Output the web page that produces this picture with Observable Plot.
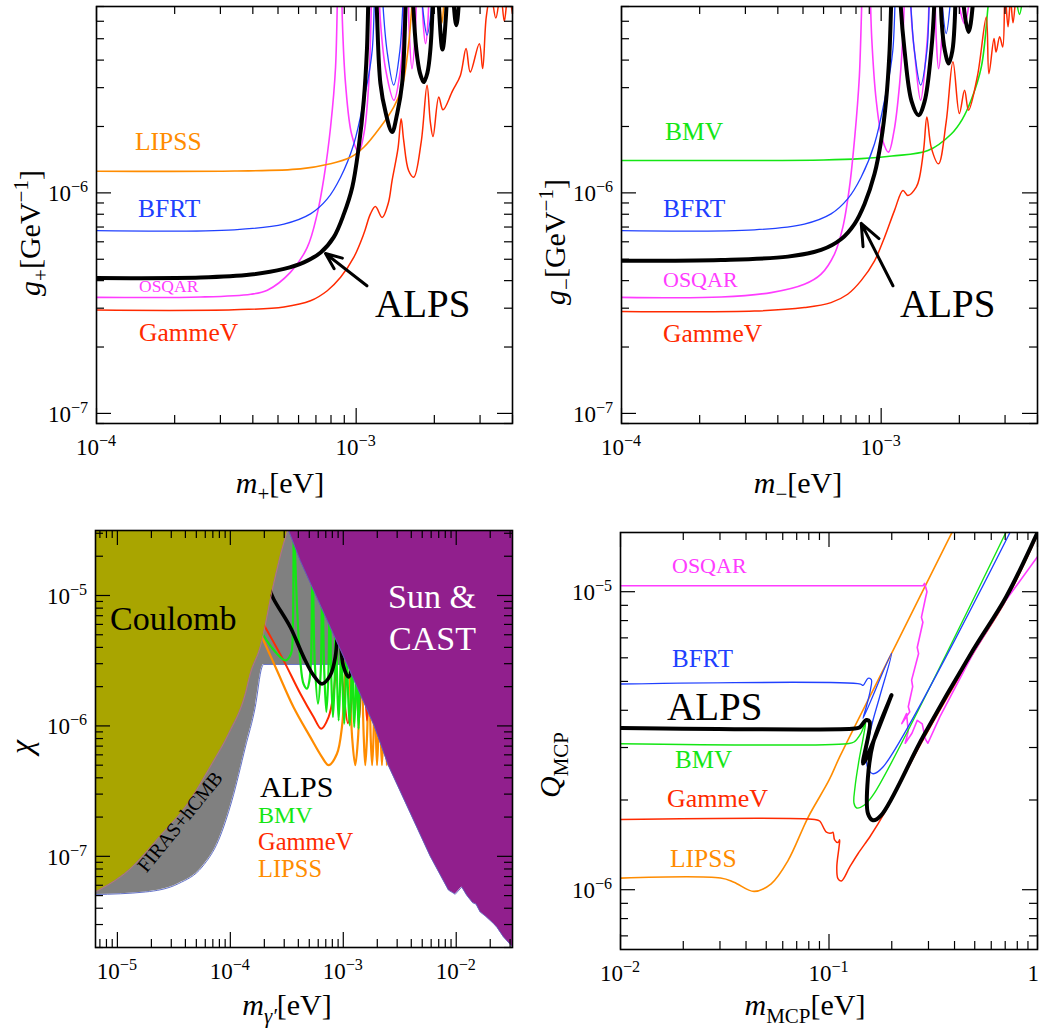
<!DOCTYPE html>
<html><head><meta charset="utf-8">
<script src="https://cdn.jsdelivr.net/npm/d3@7"></script>
<script src="https://cdn.jsdelivr.net/npm/@observablehq/plot@0.6"></script>
<style>
body{margin:0;background:#fff;}
#wrap{position:relative;width:1040px;height:1033px;overflow:hidden;background:#fff;}
</style></head><body><div id="wrap"></div>
<script>
const FONT = "'Liberation Serif','Times New Roman',serif";
const C = {orange:"#ff8c00", blue:"#2040ff", magenta:"#ff3cff", red:"#ff2a00", green:"#14e614", black:"#000",
           olive:"#a9a500", purple:"#911f8d", gray:"#808080"};

// ================= Panel A : m+ vs g+ =================
const aXDomain = [1e-4, 4e-3], aYDomain = [9e-8, 7e-6];
const aXTicks = [1e-4, 1e-3], aXTickLabels = ["10^-4", "10^-3"];
const aYTicks = [1e-7, 1e-6], aYTickLabels = ["10^-7", "10^-6"];
const aLIPSS = [[1e-4,1.254e-6],[3.4e-4,1.256e-6],[6.1e-4,1.285e-6],[7.96e-4,1.355e-6],[9.51e-4,1.45e-6],[1.07e-3,1.61e-6],[1.24e-3,1.99e-6],[1.395e-3,2.45e-6],[1.503e-3,3.02e-6],[1.593e-3,4.75e-6],[1.65e-3,8e-6],[1.75e-3,3e-5],[2.0e-3,3e-5],[2.1e-3,7.5e-6],[2.14e-3,5.9e-6],[2.18e-3,7.5e-6],[2.3e-3,3e-5]];
const aBFRT = [[1e-4,6.74e-7],[3.39e-4,6.8e-7],[5.27e-4,7.22e-7],[6.67e-4,8.03e-7],[7.74e-4,9.39e-7],[8.71e-4,1.178e-6],[9.8e-4,1.671e-6],[1.07e-3,2.63e-6],[1.153e-3,4.44e-6],[1.2e-3,3e-5],[1.26e-3,8e-6],[1.315e-3,4.4e-6],[1.395e-3,3.08e-6],[1.473e-3,4.4e-6],[1.52e-3,8e-6],[1.6e-3,3e-5],[1.8e-3,7e-6],[1.875e-3,5.19e-6],[1.95e-3,7e-6],[2.05e-3,3e-5]];
const aOSQAR = [[1e-4,3.36e-7],[2.52e-4,3.37e-7],[3.93e-4,3.47e-7],[4.55e-4,3.62e-7],[5.58e-4,4.36e-7],[6.48e-4,5.66e-7],[7.08e-4,8.03e-7],[7.52e-4,1.178e-6],[7.97e-4,1.99e-6],[8.33e-4,3.72e-6],[8.65e-4,3e-5],[8.85e-4,6e-6],[9.1e-4,3.13e-6],[9.6e-4,1.85e-6],[1.023e-3,1.53e-6],[1.075e-3,1.9e-6],[1.118e-3,3.13e-6],[1.14e-3,6e-6],[1.17e-3,3e-5],[1.24e-3,6e-6],[1.3e-3,3.6e-6],[1.397e-3,2.63e-6],[1.48e-3,3.6e-6],[1.52e-3,6e-6],[1.56e-3,3e-5],[1.6e-3,5.5e-6],[1.64e-3,3.66e-6],[1.69e-3,5.5e-6],[1.75e-3,3e-5],[1.81e-3,6e-6],[1.85e-3,4.75e-6],[1.89e-3,6e-6],[1.93e-3,3e-5]];
const aGammeV = [[1e-4,2.94e-7],[3.39e-4,2.95e-7],[5.27e-4,3.04e-7],[6.67e-4,3.24e-7],[7.74e-4,3.6e-7],[8.71e-4,4.14e-7],[9.8e-4,5.11e-7],[1.07e-3,6.52e-7],[1.135e-3,8.03e-7],[1.186e-3,8.67e-7],[1.259e-3,7.74e-7],[1.33e-3,9.0e-7],[1.375e-3,1.137e-6],[1.45e-3,1.6e-6],[1.49e-3,2.17e-6],[1.524e-3,1.73e-6],[1.593e-3,1.26e-6],[1.667e-3,1.178e-6],[1.78e-3,1.7e-6],[1.875e-3,3.08e-6],[1.93e-3,2.1e-6],[1.977e-3,1.8e-6],[2.08e-3,2.72e-6],[2.16e-3,2.38e-6],[2.35e-3,2.9e-6],[2.52e-3,3.41e-6],[2.65e-3,4.52e-6],[2.75e-3,3.53e-6],[2.98e-3,4.75e-6],[3.07e-3,3.66e-6],[3.17e-3,6.28e-6],[3.3e-3,8e-6],[3.45e-3,6.2e-6],[3.6e-3,8e-6],[3.72e-3,6e-6],[3.85e-3,8e-6],[4.0e-3,6.5e-6]];
const aALPS = [[1e-4,4.11e-7],[2.52e-4,4.13e-7],[3.93e-4,4.26e-7],[5.27e-4,4.52e-7],[6.29e-4,4.84e-7],[7.3e-4,5.37e-7],[8.2e-4,6.3e-7],[8.97e-4,8.03e-7],[9.66e-4,1.061e-6],[1.023e-3,1.615e-6],[1.07e-3,2.63e-6],[1.1e-3,4.44e-6],[1.15e-3,3e-5],[1.2e-3,7e-6],[1.24e-3,3.13e-6],[1.3e-3,2.3e-6],[1.375e-3,1.886e-6],[1.44e-3,2.3e-6],[1.503e-3,3.13e-6],[1.55e-3,7e-6],[1.6e-3,3e-5],[1.66e-3,7e-6],[1.706e-3,4.43e-6],[1.76e-3,3.5e-6],[1.82e-3,3.18e-6],[1.88e-3,3.5e-6],[1.93e-3,4.43e-6],[1.97e-3,7e-6],[2.02e-3,3e-5],[2.09e-3,6.5e-6],[2.15e-3,4.47e-6],[2.22e-3,6.5e-6],[2.29e-3,3e-5],[2.38e-3,7e-6],[2.43e-3,5.76e-6],[2.48e-3,7e-6],[2.52e-3,3e-5]];
const aArrow = [{x1:1.10e-3, y1:3.79e-7, x2:7.62e-4, y2:5.31e-7}];

// ================= Panel B : m- vs g- =================
const bXDomain = [1e-4, 4e-3], bYDomain = [9e-8, 7e-6];
const bXTicks = [1e-4, 1e-3], bXTickLabels = ["10^-4", "10^-3"];
const bYTicks = [1e-7, 1e-6], bYTickLabels = ["10^-7", "10^-6"];
const bBMV = [[1e-4,1.403e-6],[6e-4,1.41e-6],[8.38e-4,1.43e-6],[1.1e-3,1.47e-6],[1.514e-3,1.556e-6],[1.862e-3,1.85e-6],[2.05e-3,2.15e-6],[2.22e-3,2.63e-6],[2.43e-3,3.72e-6],[2.58e-3,7e-6],[2.75e-3,1.6e-5],[3.0e-3,3e-5],[3.22e-3,1.2e-5],[3.32e-3,7.5e-6],[3.41e-3,6.45e-6],[3.5e-3,7.5e-6],[3.6e-3,1.2e-5],[3.8e-3,3e-5]];
const bBFRT = [[1e-4,6.74e-7],[3.25e-4,6.8e-7],[5.06e-4,7.22e-7],[6.41e-4,8.03e-7],[7.43e-4,9.39e-7],[8.37e-4,1.178e-6],[9.43e-4,1.671e-6],[1.03e-3,2.63e-6],[1.109e-3,4.44e-6],[1.17e-3,3e-5],[1.3e-3,7e-6],[1.343e-3,4.4e-6],[1.419e-3,3.08e-6],[1.5e-3,4.4e-6],[1.53e-3,7e-6],[1.6e-3,3e-5],[1.72e-3,7e-6],[1.78e-3,5.28e-6],[1.84e-3,7e-6],[1.95e-3,3e-5]];
const bOSQAR = [[1e-4,3.36e-7],[2.42e-4,3.37e-7],[3.77e-4,3.53e-7],[5.06e-4,3.85e-7],[5.87e-4,4.28e-7],[6.61e-4,5.28e-7],[7.12e-4,6.99e-7],[7.55e-4,1.061e-6],[7.89e-4,1.73e-6],[8.24e-4,3.36e-6],[8.75e-4,3e-5],[9.2e-4,5e-6],[9.57e-4,2.63e-6],[1.01e-3,1.75e-6],[1.067e-3,1.53e-6],[1.12e-3,1.9e-6],[1.178e-3,3.13e-6],[1.22e-3,6e-6],[1.27e-3,3e-5],[1.31e-3,6e-6],[1.343e-3,4.4e-6],[1.419e-3,2.63e-6],[1.493e-3,4.4e-6],[1.52e-3,6e-6],[1.57e-3,3e-5],[1.63e-3,5e-6],[1.663e-3,3.66e-6],[1.71e-3,5e-6],[1.753e-3,3e-5],[2.0e-3,7e-6],[2.095e-3,5.86e-6],[2.17e-3,7e-6],[2.25e-3,3e-5]];
const bGammeV = [[1e-4,2.9e-7],[3.25e-4,2.91e-7],[5.06e-4,3.02e-7],[6.41e-4,3.18e-7],[7.43e-4,3.47e-7],[8.37e-4,4.0e-7],[9.43e-4,4.92e-7],[1.03e-3,6.28e-7],[1.125e-3,8.31e-7],[1.213e-3,1.026e-6],[1.268e-3,9.73e-7],[1.365e-3,1.061e-6],[1.406e-3,1.18e-6],[1.46e-3,1.6e-6],[1.5e-3,2.21e-6],[1.56e-3,1.6e-6],[1.663e-3,1.355e-6],[1.78e-3,2.1e-6],[1.89e-3,3.93e-6],[2.0e-3,2.29e-6],[2.095e-3,2.92e-6],[2.17e-3,2.37e-6],[2.35e-3,3.4e-6],[2.54e-3,6.28e-6],[2.6e-3,3.47e-6],[2.72e-3,5.01e-6],[2.77e-3,4.35e-6],[2.86e-3,5.1e-6],[2.94e-3,4.59e-6],[3.0e-3,8e-6],[3.08e-3,5.66e-6],[3.15e-3,7.5e-6],[3.22e-3,5.9e-6],[3.35e-3,9e-6],[3.45e-3,7e-6],[3.55e-3,9e-6]];
const bALPS = [[1e-4,4.92e-7],[2.42e-4,4.96e-7],[4.37e-4,5.14e-7],[5.87e-4,5.51e-7],[7.02e-4,6.18e-7],[7.89e-4,7.22e-7],[8.63e-4,8.91e-7],[9.43e-4,1.22e-6],[1.0e-3,1.73e-6],[1.045e-3,2.63e-6],[1.076e-3,4.28e-6],[1.14e-3,3e-5],[1.19e-3,7e-6],[1.23e-3,4.44e-6],[1.31e-3,2.6e-6],[1.393e-3,2.25e-6],[1.47e-3,2.6e-6],[1.56e-3,4.44e-6],[1.6e-3,7e-6],[1.65e-3,3e-5],[1.71e-3,6e-6],[1.76e-3,4.4e-6],[1.82e-3,3.86e-6],[1.88e-3,4.4e-6],[1.92e-3,6e-6],[1.985e-3,3e-5],[2.08e-3,7e-6],[2.17e-3,5.37e-6],[2.25e-3,7e-6],[2.32e-3,3e-5],[2.42e-3,7.8e-6],[2.5e-3,3e-5]];
const bArrow = [{x1:1.11e-3, y1:3.79e-7, x2:8.38e-4, y2:7.27e-7}];

// ================= Panel C : hidden photon =================
const cXDomain = [6.4e-6, 3.15e-2], cYDomain = [2e-8, 3.15e-5];
const cXTicks = [1e-5, 1e-4, 1e-3, 1e-2], cXTickLabels = ["10^-5", "10^-4", "10^-3", "10^-2"];
const cYTicks = [1e-7, 1e-6, 1e-5], cYTickLabels = ["10^-7", "10^-6", "10^-5"];
const cCoulomb = [[6.38e-6,5.33e-8],[1.26e-5,7.82e-8],[2.49e-5,1.49e-7],[4.0e-5,2.39e-7],[6.88e-5,5.13e-7],[9.66e-5,8.71e-7],[1.36e-4,1.77e-6],[1.5e-4,2.5e-6],[1.84e-4,4.02e-6],[2.42e-4,1.23e-5],[2.96e-4,2.49e-5],[3.22e-4,3.15e-5]];
const cFiras = [[6.38e-6,5.09e-8],[1.77e-5,5.33e-8],[3.48e-5,6.18e-8],[5.62e-5,8.28e-8],[7.87e-5,1.33e-7],[1.035e-4,2.69e-7],[1.36e-4,6.89e-7],[1.66e-4,1.39e-6],[1.905e-4,2.82e-6],[1.97e-4,2.96e-6],[1.2e-3,2.96e-6]];
const cSun = [[3.28e-4,3.15e-5],[4.16e-4,1.85e-5],[1.076e-3,2.99e-6],[1.88e-3,1.0e-6],[2.5e-3,5.0e-7],[5.89e-3,1.0e-7],[8.55e-3,5.5e-8],[9.8e-3,5.12e-8],[1.12e-2,5.82e-8],[1.24e-2,5.02e-8],[1.4e-2,4.4e-8],[1.5e-2,4.3e-8],[1.63e-2,3.74e-8],[1.8e-2,3.5e-8],[2.14e-2,3.05e-8],[2.3e-2,2.85e-8],[2.62e-2,2.41e-8],[3.15e-2,2.02e-8]];
const cLIPSS = [[1.75e-4,5.6e-6],[1.905e-4,4.8e-6],[2.59e-4,2.66e-6],[3.63e-4,1.39e-6],[5.11e-4,8.2e-7],[6.48e-4,5.77e-7],[7.41e-4,5.0e-7],[8.79e-4,6.12e-7],[9.73e-4,9.8e-7],[1.02e-3,1.77e-6],[1.06e-3,4e-6],[1.09e-3,3e-5],[1.15e-3,2e-6],[1.2e-3,8e-7],[1.277e-3,5.0e-7],[1.35e-3,8e-7],[1.4e-3,2e-6],[1.43e-3,3e-5],[1.48e-3,2e-6],[1.52e-3,8e-7],[1.566e-3,5e-7],[1.62e-3,8e-7],[1.66e-3,2e-6],[1.68e-3,3e-5],[1.72e-3,2e-6],[1.75e-3,8e-7],[1.8e-3,5e-7],[1.85e-3,8e-7],[1.88e-3,2e-6],[1.9e-3,3e-5],[1.93e-3,2e-6],[1.95e-3,8e-7],[1.99e-3,5e-7],[2.04e-3,8e-7],[2.07e-3,2e-6],[2.09e-3,3e-5],[2.12e-3,2e-6],[2.15e-3,8e-7],[2.2e-3,5e-7],[2.25e-3,8e-7],[2.28e-3,2e-6],[2.3e-3,3e-5],[2.34e-3,2e-6],[2.38e-3,8e-7],[2.43e-3,5e-7],[2.48e-3,8e-7],[2.52e-3,2e-6]];
const cGammeV = [[1.8e-4,7e-6],[2.04e-4,5.71e-6],[2.96e-4,3.18e-6],[4.16e-4,1.77e-6],[5.46e-4,1.17e-6],[6.38e-4,9.53e-7],[7.41e-4,1.17e-6],[8.2e-4,1.77e-6],[8.67e-4,3.18e-6],[8.9e-4,6e-6],[9.1e-4,3e-5],[9.6e-4,3e-6],[1.02e-3,1.6e-6],[1.1e-3,1.05e-6],[1.18e-3,1.5e-6],[1.24e-3,3e-6],[1.27e-3,3e-5],[1.3e-3,3e-6],[1.37e-3,1.05e-6],[1.44e-3,2.2e-6],[1.5e-3,3e-5],[1.55e-3,2.5e-6],[1.62e-3,1.1e-6],[1.7e-3,2.2e-6],[1.76e-3,3e-5]];
const cBMV = [[1.8e-4,5.8e-6],[1.97e-4,4.93e-6],[2.59e-4,3.57e-6],[3.07e-4,3.18e-6],[3.44e-4,3.57e-6],[3.58e-4,6e-6],[3.66e-4,3e-5],
  [3.9e-4,8e-6],[4.16e-4,3.18e-6],[4.45e-4,2.1e-6],[4.78e-4,1.93e-6],[5.0e-4,2.2e-6],[5.18e-4,3.18e-6],[5.28e-4,1e-5],[5.35e-4,3e-5],
  [5.45e-4,8e-6],[5.6e-4,3e-6],[5.97e-4,1.48e-6],[6.3e-4,2.5e-6],[6.45e-4,8e-6],[6.55e-4,3e-5],
  [6.65e-4,6e-6],[6.8e-4,2.5e-6],[7.08e-4,1.28e-6],[7.35e-4,2.2e-6],[7.5e-4,6e-6],[7.6e-4,3e-5],
  [7.7e-4,6e-6],[7.85e-4,2.2e-6],[8.1e-4,1.17e-6],[8.35e-4,2e-6],[8.5e-4,6e-6],[8.6e-4,3e-5],
  [8.7e-4,5e-6],[8.85e-4,2e-6],[9.1e-4,1.1e-6],[9.35e-4,1.9e-6],[9.5e-4,5e-6],[9.6e-4,3e-5],
  [9.7e-4,5e-6],[9.9e-4,1.8e-6],[1.02e-3,1.04e-6],[1.045e-3,1.8e-6],[1.06e-3,5e-6],[1.07e-3,3e-5],
  [1.08e-3,4e-6],[1.105e-3,1.7e-6],[1.14e-3,1.01e-6],[1.17e-3,1.7e-6],[1.19e-3,4e-6],[1.2e-3,3e-5],
  [1.21e-3,4e-6],[1.225e-3,1.6e-6],[1.25e-3,9.8e-7],[1.28e-3,1.6e-6],[1.3e-3,4e-6],[1.31e-3,3e-5],
  [1.32e-3,4e-6],[1.34e-3,1.6e-6],[1.365e-3,9.5e-7],[1.39e-3,1.5e-6],[1.42e-3,4e-6]];
const cALPS = [[2.2e-4,1.15e-5],[2.41e-4,9.44e-6],[3.4e-4,5.71e-6],[4.46e-4,3.37e-6],[5.46e-4,2.44e-6],[6.48e-4,2.1e-6],[7.67e-4,2.44e-6],[8.5e-4,3.37e-6],[8.9e-4,5.5e-6],[9.2e-4,1e-5],[9.5e-4,4.5e-6],[1.0e-3,2.9e-6],[1.114e-3,2.37e-6],[1.2e-3,3.2e-6],[1.25e-3,1e-5]];

// ================= Panel D : minicharged particles =================
const dXDomain = [1e-2, 1], dYDomain = [6.3e-7, 1.58e-5];
const dXTicks = [1e-2, 1e-1, 1], dXTickLabels = ["10^-2", "10^-1", "1"];
const dYTicks = [1e-6, 1e-5], dYTickLabels = ["10^-6", "10^-5"];
const dOSQAR = [[0.01,1.047e-5],[0.2825,1.047e-5],[0.2874,1.067e-5],[0.295,1.0e-5],[0.291,9.6e-6],[0.2775,8.2e-6],[0.282,7.9e-6],[0.265,6.5e-6],[0.269,6.2e-6],[0.249,5.05e-6],[0.252,4.8e-6],[0.24,4.11e-6],[0.244,3.95e-6],[0.2234,3.61e-6],[0.2355,3.9e-6],[0.24,3.4e-6],[0.232,3.1e-6],[0.25,3.35e-6],[0.265,3.7e-6],[0.28,3.6e-6],[0.29,3.2e-6],[0.298,3.1e-6],[0.34,3.8e-6],[0.491,6.21e-6],[0.7,9.3e-6],[1.0,1.31e-5]];
const dBFRT = [[0.01,4.9e-6],[0.1416,4.9e-6],[0.1457,4.85e-6],[0.1538,5.12e-6],[0.1596,5.07e-6],[0.158,4.68e-6],[0.151,4.11e-6],[0.1457,3.76e-6],[0.1995,6.21e-6],[0.175,4.44e-6],[0.1596,3.52e-6],[0.151,2.86e-6],[0.1538,2.55e-6],[0.1626,2.45e-6],[0.1815,2.58e-6],[0.748,1.61e-5]];
const dBMV = [[0.01,3.09e-6],[0.1225,3.09e-6],[0.1318,3.13e-6],[0.142,3.34e-6],[0.15,3.66e-6],[0.1462,3.26e-6],[0.1393,2.72e-6],[0.1333,2.21e-6],[0.1318,1.95e-6],[0.1358,1.88e-6],[0.1473,1.92e-6],[0.1644,2.1e-6],[0.705,1.58e-5]];
const dGammeV = [[0.01,1.72e-6],[0.0854,1.72e-6],[0.0902,1.7e-6],[0.0972,1.56e-6],[0.1028,1.55e-6],[0.1045,1.56e-6],[0.1064,1.47e-6],[0.1104,1.44e-6],[0.1125,1.47e-6],[0.1117,1.39e-6],[0.109,1.19e-6],[0.1104,1.09e-6],[0.1147,1.07e-6],[0.1256,1.19e-6],[0.1377,1.32e-6],[0.1585,1.52e-6],[0.1837,1.8e-6],[0.2825,3.18e-6],[0.491,6.2e-6],[0.708,9.4e-6],[1.0,1.55e-5]];
const dLIPSS = [[0.01,1.094e-6],[0.0302,1.094e-6],[0.035,1.06e-6],[0.0437,9.87e-7],[0.0528,1.047e-6],[0.0635,1.25e-6],[0.0794,1.75e-6],[0.1,2.33e-6],[0.1125,2.79e-6],[0.211,6.71e-6],[0.394,1.61e-5]];
const dALPS = [[0.01,3.49e-6],[0.129,3.47e-6],[0.14,3.5e-6],[0.151,3.71e-6],[0.1567,3.66e-6],[0.1457,2.65e-6],[0.1995,4.5e-6],[0.1626,3.1e-6],[0.1538,2.39e-6],[0.1538,1.8e-6],[0.1626,1.71e-6],[0.1782,1.78e-6],[0.2825,3.26e-6],[0.491,6.37e-6],[0.708,9.62e-6],[1.0,1.58e-5]];

// ================= helpers =================
function minors(dom) {
  const out = [];
  for (let k = Math.floor(Math.log10(dom[0])) ; k <= Math.ceil(Math.log10(dom[1])); k++)
    for (let m = 2; m <= 9; m++) { const v = m * Math.pow(10, k); if (v >= dom[0]*0.999 && v <= dom[1]*1.001) out.push(v); }
  return out;
}
const line = (data, stroke, sw, curve = "catmull-rom") =>
  Plot.line(data, {x: d => d[0], y: d => d[1], stroke, strokeWidth: sw, curve, clip: true});

function addText(svg, {x, y, size, fill = "#000", anchor = "start", rotate = 0, parts, dy = 0}) {
  const t = d3.select(svg).append("text")
    .attr("transform", `translate(${x},${y}) rotate(${rotate})`)
    .attr("text-anchor", anchor).attr("fill", fill)
    .attr("font-family", FONT).attr("font-size", size).attr("dy", dy);
  let off = 0;
  for (const [s, k = ""] of parts) {
    const isSub = k.includes("sub"), isSup = k.includes("sup");
    const target = isSub ? size * 0.28 : isSup ? -size * 0.4 : 0;
    const ts = t.append("tspan").text(s).attr("dy", target - off);
    off = target;
    if (isSub || isSup) ts.attr("font-size", size * 0.7);
    if (k.startsWith("i")) ts.attr("font-style", "italic");
  }
  return t;
}
function tickParts(lbl) {
  const m = lbl.match(/^10\^(-?)(\d+)$/);
  if (!m) return [[lbl]];
  return [["10"], [(m[1] ? "\u2212" : "") + m[2], "sup"]];
}

function makePanel(cfg) {
  const {left, top, width, height, m, xDomain, yDomain, xTicks, xLabels, yTicks, yLabels, marks} = cfg;
  const iw = width - m.l - m.r, ih = height - m.t - m.b;
  const xMinor = minors(xDomain), yMinor = minors(yDomain);
  const tk = {stroke: "#000", strokeWidth: 1.2};
  const plot = Plot.plot({
    width, height, marginLeft: m.l, marginRight: m.r, marginTop: m.t, marginBottom: m.b,
    x: {type: "log", domain: xDomain, axis: null},
    y: {type: "log", domain: yDomain, axis: null},
    style: {background: "transparent", overflow: "visible", fontFamily: FONT},
    marks: [
      ...marks,
      Plot.tickX(xTicks, {x: d => d, insetTop: ih - 15, ...tk}),
      Plot.tickX(xTicks, {x: d => d, insetBottom: ih - 15, ...tk}),
      Plot.tickX(xMinor, {x: d => d, insetTop: ih - 8, ...tk}),
      Plot.tickX(xMinor, {x: d => d, insetBottom: ih - 8, ...tk}),
      Plot.tickY(yTicks, {y: d => d, insetRight: iw - 15, ...tk}),
      Plot.tickY(yTicks, {y: d => d, insetLeft: iw - 15, ...tk}),
      Plot.tickY(yMinor, {y: d => d, insetRight: iw - 8, ...tk}),
      Plot.tickY(yMinor, {y: d => d, insetLeft: iw - 8, ...tk}),
      Plot.frame({stroke: "#000", strokeWidth: 1.6})
    ]
  });
  plot.style.position = "absolute";
  plot.style.left = left + "px";
  plot.style.top = top + "px";
  plot.style.maxWidth = "none";
  const sx = plot.scale("x"), sy = plot.scale("y");
  const bottom = height - m.b;
  xTicks.forEach((v, i) => {
    const px = sx.apply(v);
    const nearEdge = px > width - 10;
    addText(plot, {x: nearEdge ? width - 1 : px, y: bottom + 32, size: 23, anchor: nearEdge ? "end" : "middle", parts: tickParts(xLabels[i])});
  });
  yTicks.forEach((v, i) => addText(plot, {x: m.l - 8, y: sy.apply(v) + 9, size: 23, anchor: "end", parts: tickParts(yLabels[i])}));
  document.getElementById("wrap").appendChild(plot);
  return plot;
}
const arrowOpts = {x1: "x1", y1: "y1", x2: "x2", y2: "y2", stroke: "#000", strokeWidth: 3, headLength: 15, headAngle: 45};

// ================= Panel A =================
const pA = makePanel({
  left: 0, top: 0, width: 520, height: 515, m: {l: 96, r: 8, t: 6, b: 92},
  xDomain: aXDomain, yDomain: aYDomain, xTicks: aXTicks, xLabels: aXTickLabels, yTicks: aYTicks, yLabels: aYTickLabels,
  marks: [
    line(aGammeV, C.red, 1.5), line(aOSQAR, C.magenta, 1.6), line(aBFRT, C.blue, 1.3), line(aLIPSS, C.orange, 1.6),
    line(aALPS, C.black, 4),
    Plot.arrow(aArrow, arrowOpts)
  ]
});
addText(pA, {x: 135, y: 150, size: 25.5, fill: C.orange, parts: [["LIPSS"]]});
addText(pA, {x: 138, y: 217, size: 25.5, fill: C.blue, parts: [["BFRT"]]});
addText(pA, {x: 139, y: 292, size: 17.5, fill: C.magenta, parts: [["OSQAR"]]});
addText(pA, {x: 139, y: 341, size: 25.5, fill: C.red, parts: [["GammeV"]]});
addText(pA, {x: 375, y: 317, size: 39, parts: [["ALPS"]]});
addText(pA, {x: 280, y: 493, size: 30, anchor: "middle", parts: [["m", "i"], ["+", "sub"], ["[eV]"]]});
addText(pA, {x: 40, y: 233, size: 30, anchor: "middle", rotate: -90, parts: [["g", "i"], ["+", "sub"], ["[GeV"], ["\u22121", "sup"], ["]"]]});

// ================= Panel B =================
const pB = makePanel({
  left: 520, top: 0, width: 520, height: 515, m: {l: 101, r: 3, t: 6, b: 92},
  xDomain: bXDomain, yDomain: bYDomain, xTicks: bXTicks, xLabels: bXTickLabels, yTicks: bYTicks, yLabels: bYTickLabels,
  marks: [
    line(bBMV, C.green, 1.6), line(bGammeV, C.red, 1.5), line(bOSQAR, C.magenta, 1.6), line(bBFRT, C.blue, 1.3),
    line(bALPS, C.black, 4),
    Plot.arrow(bArrow, arrowOpts)
  ]
});
addText(pB, {x: 145, y: 140, size: 25.5, fill: C.green, parts: [["BMV"]]});
addText(pB, {x: 143, y: 217, size: 25.5, fill: C.blue, parts: [["BFRT"]]});
addText(pB, {x: 143, y: 287, size: 22, fill: C.magenta, parts: [["OSQAR"]]});
addText(pB, {x: 143, y: 342, size: 25.5, fill: C.red, parts: [["GammeV"]]});
addText(pB, {x: 380, y: 317, size: 39, parts: [["ALPS"]]});
addText(pB, {x: 278, y: 493, size: 30, anchor: "middle", parts: [["m", "i"], ["\u2212", "sub"], ["[eV]"]]});
addText(pB, {x: 45, y: 242, size: 30, anchor: "middle", rotate: -90, parts: [["g", "i"], ["\u2212", "sub"], ["[GeV"], ["\u22121", "sup"], ["]"]]});

// ================= Panel C =================
const cTop = () => cYDomain[1];
const pC = makePanel({
  left: 0, top: 515, width: 520, height: 518, m: {l: 95, r: 8, t: 15, b: 86},
  xDomain: cXDomain, yDomain: cYDomain, xTicks: cXTicks, xLabels: cXTickLabels, yTicks: cYTicks, yLabels: cYTickLabels,
  marks: [
    Plot.areaY(cFiras, {x: d => d[0], y1: d => d[1], y2: cTop, fill: C.gray, curve: "monotone-x", clip: true}),
    line(cFiras, "#5060c0", 0.9, "monotone-x"),
    line(cLIPSS, C.orange, 2.2), line(cGammeV, C.red, 2), line(cBMV, C.green, 2.2), line(cALPS, C.black, 3.6),
    Plot.areaY(cCoulomb, {x: d => d[0], y1: d => d[1], y2: cTop, fill: C.olive, curve: "monotone-x", clip: true}),
    line(cCoulomb, "#c07080", 0.9, "monotone-x"),
    Plot.areaY(cSun, {x: d => d[0], y1: d => d[1], y2: cTop, fill: C.purple, clip: true}),
    line(cSun, "#6060c0", 0.9, "linear")
  ]
});
addText(pC, {x: 110, y: 115, size: 34, parts: [["Coulomb"]]});
addText(pC, {x: 388, y: 93, size: 34, fill: "#fff", parts: [["Sun &"]]});
addText(pC, {x: 389, y: 135, size: 34, fill: "#fff", parts: [["CAST"]]});
addText(pC, {x: 260, y: 282, size: 30, parts: [["ALPS"]]});
addText(pC, {x: 258, y: 308, size: 24, fill: C.green, parts: [["BMV"]]});
addText(pC, {x: 258, y: 335, size: 24.5, fill: C.red, parts: [["GammeV"]]});
addText(pC, {x: 258, y: 362, size: 24.5, fill: C.orange, parts: [["LIPSS"]]});
addText(pC, {x: 185, y: 311, size: 20, anchor: "middle", rotate: -51, dy: "0.35em", parts: [["FIRAS+hCMB"]]});
addText(pC, {x: 287, y: 500, size: 30, anchor: "middle", parts: [["m", "i"], ["\u03b3\u2032", "isub"], ["[eV]"]]});
addText(pC, {x: 32, y: 232, size: 32, anchor: "middle", rotate: -90, parts: [["\u03c7", "i"]]});

// ================= Panel D =================
const pD = makePanel({
  left: 520, top: 515, width: 520, height: 518, m: {l: 100, r: 3, t: 17, b: 84},
  xDomain: dXDomain, yDomain: dYDomain, xTicks: dXTicks, xLabels: dXTickLabels, yTicks: dYTicks, yLabels: dYTickLabels,
  marks: [
    line(dLIPSS, C.orange, 1.6), line(dGammeV, C.red, 1.5), line(dOSQAR, C.magenta, 1.6, "linear"),
    line(dBMV, C.green, 1.4), line(dBFRT, C.blue, 1.3), line(dALPS, C.black, 4)
  ]
});
addText(pD, {x: 152, y: 58, size: 22, fill: C.magenta, parts: [["OSQAR"]]});
addText(pD, {x: 152, y: 152, size: 25, fill: C.blue, parts: [["BFRT"]]});
addText(pD, {x: 147, y: 205, size: 39, parts: [["ALPS"]]});
addText(pD, {x: 155, y: 253, size: 25, fill: C.green, parts: [["BMV"]]});
addText(pD, {x: 147, y: 292, size: 26, fill: C.red, parts: [["GammeV"]]});
addText(pD, {x: 150, y: 352, size: 25.5, fill: C.orange, parts: [["LIPSS"]]});
addText(pD, {x: 285, y: 500, size: 30, anchor: "middle", parts: [["m", "i"], ["MCP", "sub"], ["[eV]"]]});
addText(pD, {x: 40, y: 250, size: 30, anchor: "middle", rotate: -90, parts: [["Q", "i"], ["MCP", "sub"]]});
</script>
</body></html>
